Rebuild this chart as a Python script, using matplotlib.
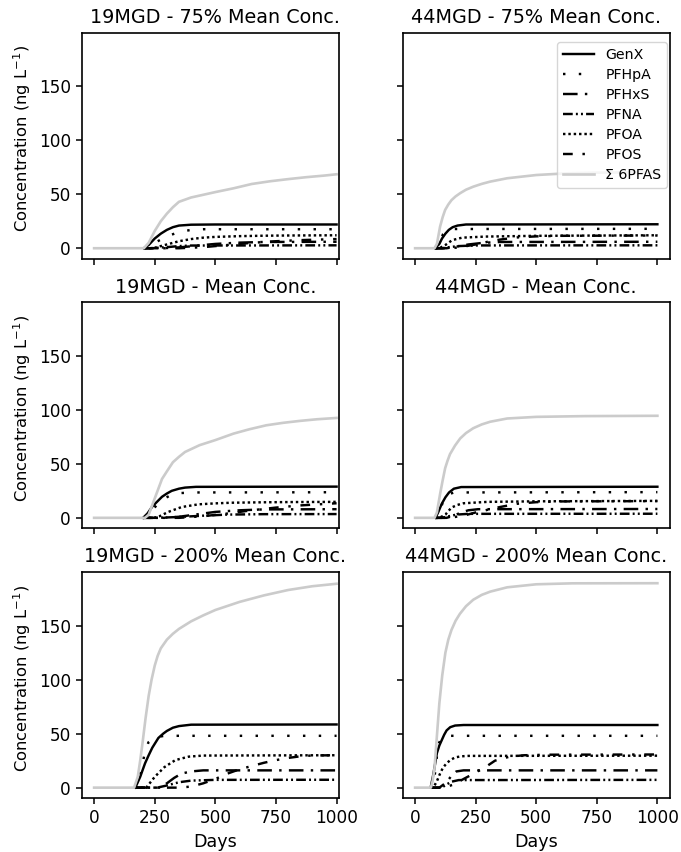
import matplotlib
matplotlib.use("Agg")
import matplotlib.pyplot as plt

# ---- simulated effluent concentrations (ng/L) vs. days -------------------
# each series: (days, concentration)

# 19 MGD, 75 % of mean influent concentration
genx_19_75 = ([205, 225, 250, 275, 300, 325, 350, 400, 500, 1000],
              [0, 3, 9, 13.5, 17, 19.5, 21, 21.8, 22, 22])
pfhpa_19_75 = ([205, 225, 250, 275, 300, 350, 400, 450, 1000],
               [0, 1, 5, 8, 11, 15, 17, 17.6, 17.6])
pfhxs_19_75 = ([205, 280, 350, 400, 450, 500, 600, 700, 1000],
               [0, 0, 0.8, 1.8, 3, 4, 5.2, 5.8, 6])
pfna_19_75 = ([205, 230, 300, 350, 400, 1000],
              [0, 0, 1, 2, 2.5, 2.7])
pfoa_19_75 = ([205, 230, 250, 300, 350, 400, 450, 500, 600, 700, 800, 1000],
              [0, 0, 0.5, 3.5, 6.5, 8.5, 9.8, 10.5, 11.2, 11.6, 11.8, 12])
pfos_19_75 = ([205, 350, 450, 550, 650, 750, 850, 1000],
              [0, 0, 1, 3, 5, 6.5, 7.5, 8.5])
sum_19_75 = ([0, 205, 225, 250, 275, 300, 325, 350, 400, 450, 500, 575, 650, 725, 800, 875, 950, 1000],
             [0, 0, 5, 16, 25, 32, 38, 43, 47, 49.5, 52, 55.5, 59.5, 62, 64, 65.8, 67.3, 68.5])

# 19 MGD, mean influent concentration
genx_19_100 = ([202, 220, 240, 260, 280, 300, 320, 350, 375, 420, 1000],
               [0, 4, 10.5, 15, 19.5, 22.5, 25, 27, 28, 28.7, 28.9])
pfhpa_19_100 = ([202, 215, 231, 260, 283, 320, 360, 420, 1000],
                [0, 1, 5.5, 12, 17, 21.5, 23, 23.5, 23.7])
pfhxs_19_100 = ([202, 280, 350, 400, 450, 500, 600, 700, 1000],
                [0, 0, 1, 2.5, 4, 5.5, 7, 7.8, 8])
pfna_19_100 = ([202, 260, 350, 450, 550, 700, 1000],
               [0, 0, 0.8, 2, 3, 3.4, 3.5])
pfoa_19_100 = ([202, 245, 270, 306, 361, 430, 500, 567, 700, 800, 1000],
               [0, 0, 1.5, 5.5, 10, 12.5, 13.4, 14, 14.4, 14.6, 14.8])
pfos_19_100 = ([202, 350, 450, 550, 650, 750, 850, 1000],
               [0, 0, 1.5, 4, 7, 9.5, 11.5, 13.5])
sum_19_100 = ([0, 210, 225, 250, 280, 300, 325, 350, 375, 435, 500, 575, 640, 710, 780, 850, 920, 1000],
              [0, 0, 3, 18, 36, 43, 51.5, 56.5, 61, 67.3, 72, 78, 82, 85.7, 88, 89.8, 91.3, 92.5])

# 19 MGD, 200 % of mean influent concentration
genx_19_200 = ([170, 190, 210, 225, 240, 265, 285, 300, 325, 350, 400, 1000],
               [0, 10, 22.5, 30, 37, 46, 50, 52.5, 55.5, 57, 58.3, 58.5])
pfhpa_19_200 = ([170, 180, 195, 207, 224, 250, 290, 1000],
                [0, 0, 17, 30, 42, 46.5, 48, 48])
pfhxs_19_200 = ([170, 270, 300, 330, 360, 400, 450, 1000],
                [0, 0, 4, 9, 13, 15, 16, 16])
pfna_19_200 = ([170, 260, 300, 350, 400, 500, 1000],
               [0, 0, 2, 5, 6.5, 7.2, 7.3])
pfoa_19_200 = ([170, 215, 250, 290, 335, 390, 450, 1000],
               [0, 0, 10, 19, 25.5, 28.7, 29.7, 30])
pfos_19_200 = ([170, 350, 400, 450, 500, 550, 600, 650, 700, 750, 800, 850, 900, 1000],
               [0, 0, 1, 4, 8, 13, 17, 20, 23, 25.5, 27.5, 29, 29.8, 30])
sum_19_200 = ([0, 165, 180, 190, 200, 212, 225, 237, 250, 262, 275, 300, 325, 350, 400, 450, 500, 600, 700, 800, 900, 1000],
              [0, 0, 10, 25, 42, 64, 85, 100, 113, 122, 129, 137, 142.5, 147, 154, 159.5, 164.5, 172, 178, 183, 186.5, 188.8])

# 44 MGD, 75 % of mean influent concentration
genx_44_75 = ([82, 100, 111, 125, 139, 155, 175, 210, 1000],
              [0, 4, 9, 13.5, 17, 19.5, 21, 22, 22.2])
pfhpa_44_75 = ([82, 95, 105, 115, 130, 160, 1000],
               [0, 0, 7, 13, 16.5, 17.8, 18])
pfhxs_44_75 = ([82, 130, 170, 220, 280, 350, 1000],
               [0, 0, 1.5, 3.5, 5, 5.8, 6])
pfna_44_75 = ([82, 110, 140, 180, 250, 1000],
              [0, 0, 1, 2, 2.6, 2.7])
pfoa_44_75 = ([82, 100, 125, 153, 194, 290, 500, 1000],
              [0, 0, 3, 7.5, 9.8, 10.8, 11.5, 12])
pfos_44_75 = ([82, 150, 200, 250, 300, 350, 420, 500, 600, 1000],
              [0, 0, 1.5, 3.5, 6, 8, 10, 11, 11.5, 11.8])
sum_44_75 = ([0, 80, 90, 103, 114, 124, 137, 150, 167, 186, 210, 240, 275, 310, 380, 500, 620, 750, 1000],
             [0, 0, 4, 20, 29, 35.5, 40.5, 44.5, 48, 51, 54.2, 57, 59.6, 61.7, 64.8, 67.8, 69.3, 70, 70.5])

# 44 MGD, mean influent concentration
genx_44_100 = ([84, 95, 110, 125, 140, 160, 190, 1000],
               [0, 5, 13, 19, 23.5, 27, 28.5, 28.8])
pfhpa_44_100 = ([84, 95, 105, 115, 130, 160, 1000],
                [0, 0, 8, 15, 21, 23.5, 23.8])
pfhxs_44_100 = ([84, 130, 160, 190, 220, 260, 1000],
                [0, 0, 2, 5, 7, 8, 8.2])
pfna_44_100 = ([84, 110, 140, 170, 220, 1000],
               [0, 0, 1.5, 3, 3.7, 3.8])
pfoa_44_100 = ([84, 100, 125, 150, 175, 200, 300, 500, 1000],
               [0, 0, 3, 9.5, 12, 13.5, 14.8, 15.3, 15.7])
pfos_44_100 = ([84, 140, 200, 250, 300, 350, 420, 500, 600, 1000],
               [0, 0, 2, 5, 7.5, 10, 13, 14.5, 15.2, 15.5])
sum_44_100 = ([0, 80, 90, 103, 114, 124, 134, 144, 165, 186, 210, 240, 275, 310, 380, 500, 700, 1000],
              [0, 0, 5, 22, 35, 46, 53, 59, 67, 73.5, 78.5, 83, 86.5, 89, 92, 93.5, 94.2, 94.5])

# 44 MGD, 200 % of mean influent concentration
genx_44_200 = ([64, 75, 90, 100, 110, 120, 130, 145, 165, 200, 1000],
               [0, 12, 32, 39, 44, 49, 53, 56, 57.5, 58, 58])
pfhpa_44_200 = ([64, 75, 88, 95, 110, 140, 1000],
                [0, 0, 25, 40, 46, 48, 48])
pfhxs_44_200 = ([64, 100, 130, 150, 170, 200, 1000],
                [0, 0, 5, 11, 15, 16, 16])
pfna_44_200 = ([64, 110, 130, 150, 180, 1000],
               [0, 0, 3, 5.5, 7, 7.2])
pfoa_44_200 = ([64, 75, 90, 103, 115, 130, 145, 165, 190, 220, 1000],
               [0, 0, 6, 13, 18.5, 22.5, 25.5, 28, 29, 29.4, 29.6])
pfos_44_200 = ([64, 120, 160, 200, 250, 290, 330, 390, 450, 550, 1000],
               [0, 0, 3, 8, 14, 19, 25, 28.7, 30, 30.5, 30.7])
sum_44_200 = ([0, 65, 72, 80, 90, 100, 112, 125, 137, 150, 167, 185, 210, 240, 275, 310, 380, 500, 650, 1000],
              [0, 0, 6, 18, 48, 78, 104, 125, 137, 146, 154.5, 161, 168, 174, 178.5, 181.5, 185.5, 188.3, 189.2, 189.3])

compounds = ["GenX", "PFHpA", "PFHxS", "PFNA", "PFOA", "PFOS", "Σ 6PFAS"]
titles = [["19MGD - 75% Mean Conc.", "44MGD - 75% Mean Conc."],
          ["19MGD - Mean Conc.", "44MGD - Mean Conc."],
          ["19MGD - 200% Mean Conc.", "44MGD - 200% Mean Conc."]]
panels = [
    [[genx_19_75, pfhpa_19_75, pfhxs_19_75, pfna_19_75, pfoa_19_75, pfos_19_75, sum_19_75],
     [genx_44_75, pfhpa_44_75, pfhxs_44_75, pfna_44_75, pfoa_44_75, pfos_44_75, sum_44_75]],
    [[genx_19_100, pfhpa_19_100, pfhxs_19_100, pfna_19_100, pfoa_19_100, pfos_19_100, sum_19_100],
     [genx_44_100, pfhpa_44_100, pfhxs_44_100, pfna_44_100, pfoa_44_100, pfos_44_100, sum_44_100]],
    [[genx_19_200, pfhpa_19_200, pfhxs_19_200, pfna_19_200, pfoa_19_200, pfos_19_200, sum_19_200],
     [genx_44_200, pfhpa_44_200, pfhxs_44_200, pfna_44_200, pfoa_44_200, pfos_44_200, sum_44_200]],
]

# line styles per compound
LW = 1.75
styles = [
    dict(color="black", lw=LW, linestyle="-"),
    dict(color="black", lw=LW, linestyle=(0, (1, 5.5))),
    dict(color="black", lw=LW, linestyle=(0, (6, 3, 1, 3))),
    dict(color="black", lw=LW, linestyle=(0, (4, 1.3, 0.8, 1.3, 0.8, 1.3))),
    dict(color="black", lw=LW, linestyle=(0, (1, 1.2))),
    dict(color="black", lw=LW, linestyle=(0, (4, 4, 1, 4))),
    dict(color="#cbcbcb", lw=1.9, linestyle="-"),
]

W, H = 681, 852
fig = plt.figure(figsize=(W / 100, H / 100), dpi=100)

col_x = [(82, 339, (-50, 1010)), (403, 669.5, (-50, 1050))]
row_top = [32.8, 302.4, 572.2]
ax_h = 225.7

for r in range(3):
    for c in range(2):
        x0, x1, xl = col_x[c]
        top = row_top[r]
        ax = fig.add_axes([x0 / W, 1 - (top + ax_h) / H, (x1 - x0) / W, ax_h / H])
        lines = []
        for (days, vals), st, name in zip(panels[r][c], styles, compounds):
            ln, = ax.plot(days, vals, label=name, **st)
            lines.append(ln)
        ax.set_xlim(*xl)
        ax.set_ylim(-9.5, 199.5)
        ax.set_xticks([0, 250, 500, 750, 1000])
        ax.set_yticks([0, 50, 100, 150])
        ax.tick_params(labelsize=12.2, width=1.1, length=4.5)
        for sp in ax.spines.values():
            sp.set_linewidth(1.2)
        # title / x-label centred on the full -50..1050 day span
        xc = (500 - xl[0]) / (xl[1] - xl[0])
        ax.set_title(titles[r][c], fontsize=13.8, x=xc, pad=7)
        if r < 2:
            ax.tick_params(labelbottom=False)
        else:
            ax.set_xlabel("Days", fontsize=12.6)
            ax.xaxis.set_label_coords(xc, -0.155)
        if c == 1:
            ax.tick_params(labelleft=False)
        else:
            ax.set_ylabel("Concentration (ng L$^{-1}$)", fontsize=11.8)
            ax.yaxis.set_label_coords(-0.19, 0.53)
        if r == 0 and c == 1:
            ax.legend(handles=lines, loc="upper right",
                      bbox_to_anchor=(0.9906, 0.9597), borderaxespad=0,
                      fontsize=10.2, labelspacing=0.43, handlelength=2.2,
                      handletextpad=0.8, borderpad=0.4, framealpha=0.8,
                      edgecolor="#cccccc", fancybox=True)

fig.savefig("out.png", dpi=100)
